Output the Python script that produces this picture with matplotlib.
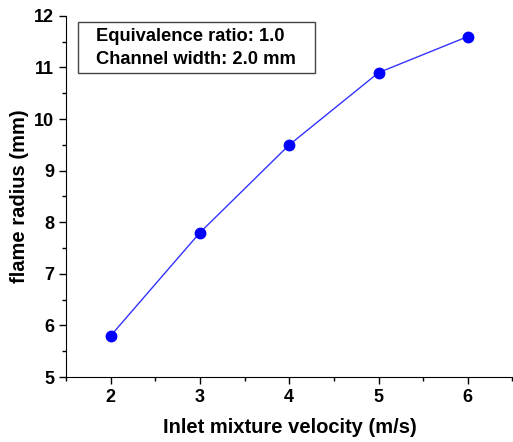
import matplotlib
matplotlib.use("Agg")
import matplotlib.pyplot as plt
from matplotlib.patches import Rectangle
from matplotlib.ticker import MultipleLocator

plt.rcParams['font.family'] = ['Liberation Sans', 'DejaVu Sans']
plt.rcParams['font.weight'] = 'bold'

velocity = [2, 3, 4, 5, 6]
radius = [5.8, 7.8, 9.5, 10.9, 11.6]
notes = ['Equivalence ratio: 1.0', 'Channel width: 2.0 mm']

fig = plt.figure(figsize=(5.13, 4.42), dpi=100)
ax = fig.add_axes([0.1287, 0.147, 0.872, 0.817])

ax.plot(velocity, radius, color='#3333ff', lw=1, marker='o', ms=7.5,
        mfc='#0000ff', mec='#0000ff')

ax.set_xlim(1.5, 6.51)
ax.set_ylim(5, 12)
ax.xaxis.set_major_locator(MultipleLocator(1))
ax.xaxis.set_minor_locator(MultipleLocator(0.5))
ax.yaxis.set_major_locator(MultipleLocator(1))
ax.yaxis.set_minor_locator(MultipleLocator(0.5))
ax.spines['top'].set_visible(False)
ax.spines['right'].set_visible(False)
ax.tick_params(which='major', direction='out', length=5, width=1, labelsize=13)
ax.tick_params(which='minor', direction='out', length=3, width=1)
for lab in ax.get_xticklabels() + ax.get_yticklabels():
    lab.set_fontweight('bold')

ax.set_xlabel('Inlet mixture velocity (m/s)', fontsize=14.5, fontweight='bold', labelpad=9)
ax.set_ylabel('flame radius (mm)', fontsize=14.5, fontweight='bold', labelpad=4)

# annotation box
ax.add_patch(Rectangle((0.027, 0.842), 0.530, 0.141, transform=ax.transAxes,
                       fc='white', ec='#444444', lw=1, zorder=3))
for i, t in enumerate(notes):
    ax.text(0.068, 0.942 - i * 0.063, t, transform=ax.transAxes, fontsize=13.2,
            fontweight='bold', va='center', ha='left', zorder=4)

fig.savefig('out.png', dpi=100)
